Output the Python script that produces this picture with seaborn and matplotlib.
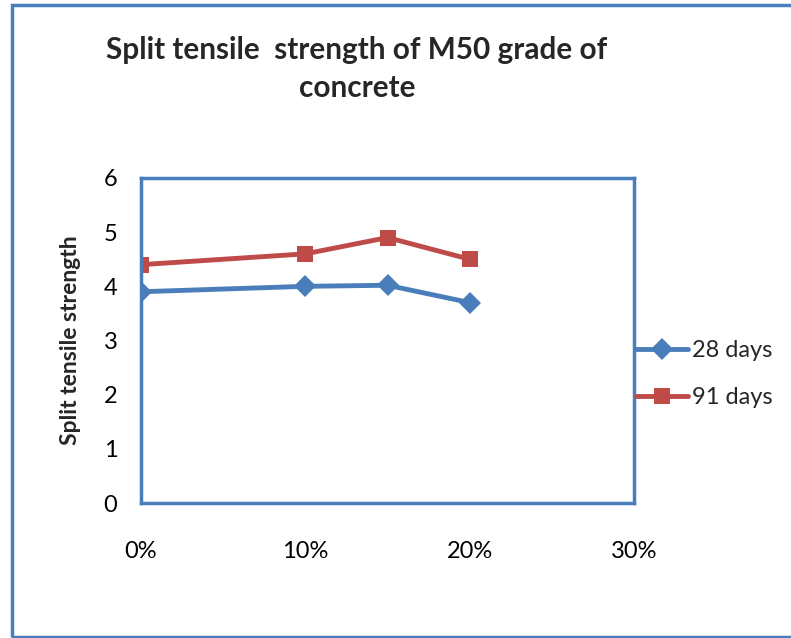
import matplotlib
matplotlib.use("Agg")
import matplotlib.pyplot as plt
import seaborn as sns
import pandas as pd
from matplotlib.patches import Rectangle
from matplotlib.lines import Line2D

# data
replacement = [0.00, 0.10, 0.15, 0.20]
days28 = [3.9, 4.0, 4.02, 3.7]
days91 = [4.4, 4.6, 4.9, 4.5]
series_names = ["28 days", "91 days"]
x_ticks = [0.0, 0.1, 0.2, 0.3]
x_ticklabels = ["0%", "10%", "20%", "30%"]
y_ticks = [0, 1, 2, 3, 4, 5, 6]

sns.set_theme(style="white")
plt.rcParams["font.family"] = ["Lato", "DejaVu Sans"]

df = pd.DataFrame({
    "x": replacement * 2,
    "y": days28 + days91,
    "series": [series_names[0]] * 4 + [series_names[1]] * 4,
})

blue = "#4A7EBB"
red = "#BE4B48"
palette = {series_names[0]: blue, series_names[1]: red}
markers = {series_names[0]: "D", series_names[1]: "s"}

fig = plt.figure(figsize=(7.91, 6.38), dpi=100)
ax = fig.add_axes([141/791, 1-503/638, (634-141)/791, (503-178)/638])

sns.lineplot(data=df, x="x", y="y", hue="series", style="series",
             palette=palette, markers=markers, dashes=False,
             linewidth=3.5, markersize=11.5, markeredgewidth=0,
             ax=ax, legend=False)

ax.set_xlim(0, 0.3)
ax.set_ylim(0, 6)
ax.set_xticks(x_ticks)
ax.set_xticklabels(x_ticklabels)
ax.set_yticks(y_ticks)
ax.tick_params(axis="both", length=0, labelsize=17, colors="black")
ax.tick_params(axis="x", pad=27)
ax.tick_params(axis="y", pad=17)
ax.set_xlabel("")
ax.set_ylabel("Split tensile strength", fontsize=16.5, fontweight="bold", labelpad=16)
for s in ax.spines.values():
    s.set_visible(True)
    s.set_color(blue)
    s.set_linewidth(2.5)

# legend
handles = [Line2D([0], [0], color=blue, lw=3.5, marker="D", markersize=11.5, markeredgewidth=0),
           Line2D([0], [0], color=red, lw=3.5, marker="s", markersize=11.5, markeredgewidth=0)]
fig.legend(handles, series_names, loc="upper left",
           bbox_to_anchor=(636/791, 1-340/638), frameon=False,
           borderpad=0, borderaxespad=0,
           fontsize=17, handlelength=2.2, handletextpad=0.17, labelspacing=1.1)

# title
fig.text(357/791, 1-69/638, "Split tensile  strength of M50 grade of\nconcrete",
         ha="center", va="center", multialignment="center",
         fontsize=21.4, fontweight="bold", linespacing=1.4)

# outer chart border
fig.patches.append(Rectangle((11.5/791, 1/638), 1.2, 1 - 6/638,
                             transform=fig.transFigure, fill=False,
                             edgecolor=blue, linewidth=2.5, zorder=0))

fig.savefig("out.png", dpi=100)
